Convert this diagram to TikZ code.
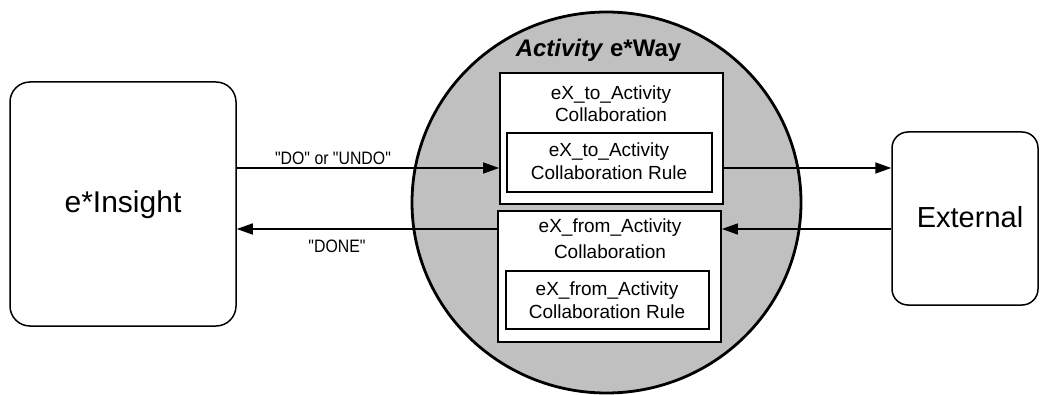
\documentclass[tikz,border=0pt]{standalone}
\usepackage{fontspec}
\setmainfont{Liberation Sans}
\usetikzlibrary{arrows.meta,shapes.geometric}
\newcommand{\qq}[1]{\textquotedbl#1\textquotedbl}
\begin{document}
\begin{tikzpicture}[x=1pt,y=-1pt,
  sqbox/.style={draw, line width=1.8pt, fill=white, inner sep=0pt, rectangle},
  rbox/.style={draw, line width=1.5pt, fill=white, inner sep=0pt, rectangle},
  boxtxt/.style={anchor=base, inner sep=0pt, font=\fontsize{19}{23}\selectfont},
  lbl/.style={anchor=base, inner sep=0pt, font=\fontsize{18}{20}\selectfont},
  arr/.style={line width=1.5pt, -{Triangle[length=16pt,width=11pt]}}]
\useasboundingbox (0,0) rectangle (1040,395);
% the e*Way ellipse
\node[draw, line width=2.8pt, fill={rgb,255:red,192;green,192;blue,192}, ellipse, minimum width=389pt, minimum height=381pt, inner sep=0pt] (way) at (606.5,202.5) {};
\node[anchor=base, inner sep=0pt, font=\fontsize{24}{28}\selectfont\bfseries] (title) at (598.5,57) {\textit{Activity} e*Way};
% boxes
\node[sqbox, minimum width=223pt, minimum height=131pt] (upo) at (611.5,138.5) {};
\node[sqbox, minimum width=205pt, minimum height=59pt] (upi) at (609.5,162.5) {};
\node[sqbox, minimum width=223pt, minimum height=131pt] (lwo) at (609.5,276.5) {};
\node[sqbox, minimum width=203pt, minimum height=58pt] (lwi) at (607.5,300) {};
\node[boxtxt] (t1) at (611,100) {eX\_to\_Activity};
\node[boxtxt] (t2) at (611,122) {Collaboration};
\node[boxtxt] (t3) at (609,157) {eX\_to\_Activity};
\node[boxtxt] (t4) at (609,180) {Collaboration Rule};
\node[boxtxt] (t5) at (610,233) {eX\_from\_Activity};
\node[boxtxt] (t6) at (610,258) {Collaboration};
\node[boxtxt] (t7) at (607,295) {eX\_from\_Activity};
\node[boxtxt] (t8) at (607,318) {Collaboration Rule};
% side boxes
\node[rbox, rounded corners=20pt, minimum width=226pt, minimum height=244pt] (ins) at (123,204) {};
\node[anchor=base, inner sep=0pt, font=\fontsize{30}{34}\selectfont] (inst) at (123,213) {e*Insight};
\node[rbox, rounded corners=16pt, minimum width=146pt, minimum height=173pt] (ext) at (965,218.5) {};
\node[anchor=base, inner sep=0pt, font=\fontsize{29}{34}\selectfont] (extt) at (970,228) {External};
% connectors
\draw[arr] (ins.east |- 0,168) -- (upo.west |- 0,168);
\draw[arr] (lwo.west |- 0,229) -- (ins.east |- 0,229);
\draw[arr] (upo.east |- 0,168) -- (ext.west |- 0,168);
\draw[arr] (ext.west |- 0,229) -- (lwo.east |- 0,229);
\node[lbl] (l1) at (333,165) {\scalebox{0.88}[1]{\qq{DO} or \qq{UNDO}}};
\node[lbl] (l2) at (337,252) {\scalebox{0.88}[1]{\qq{DONE}}};
\end{tikzpicture}
\end{document}
